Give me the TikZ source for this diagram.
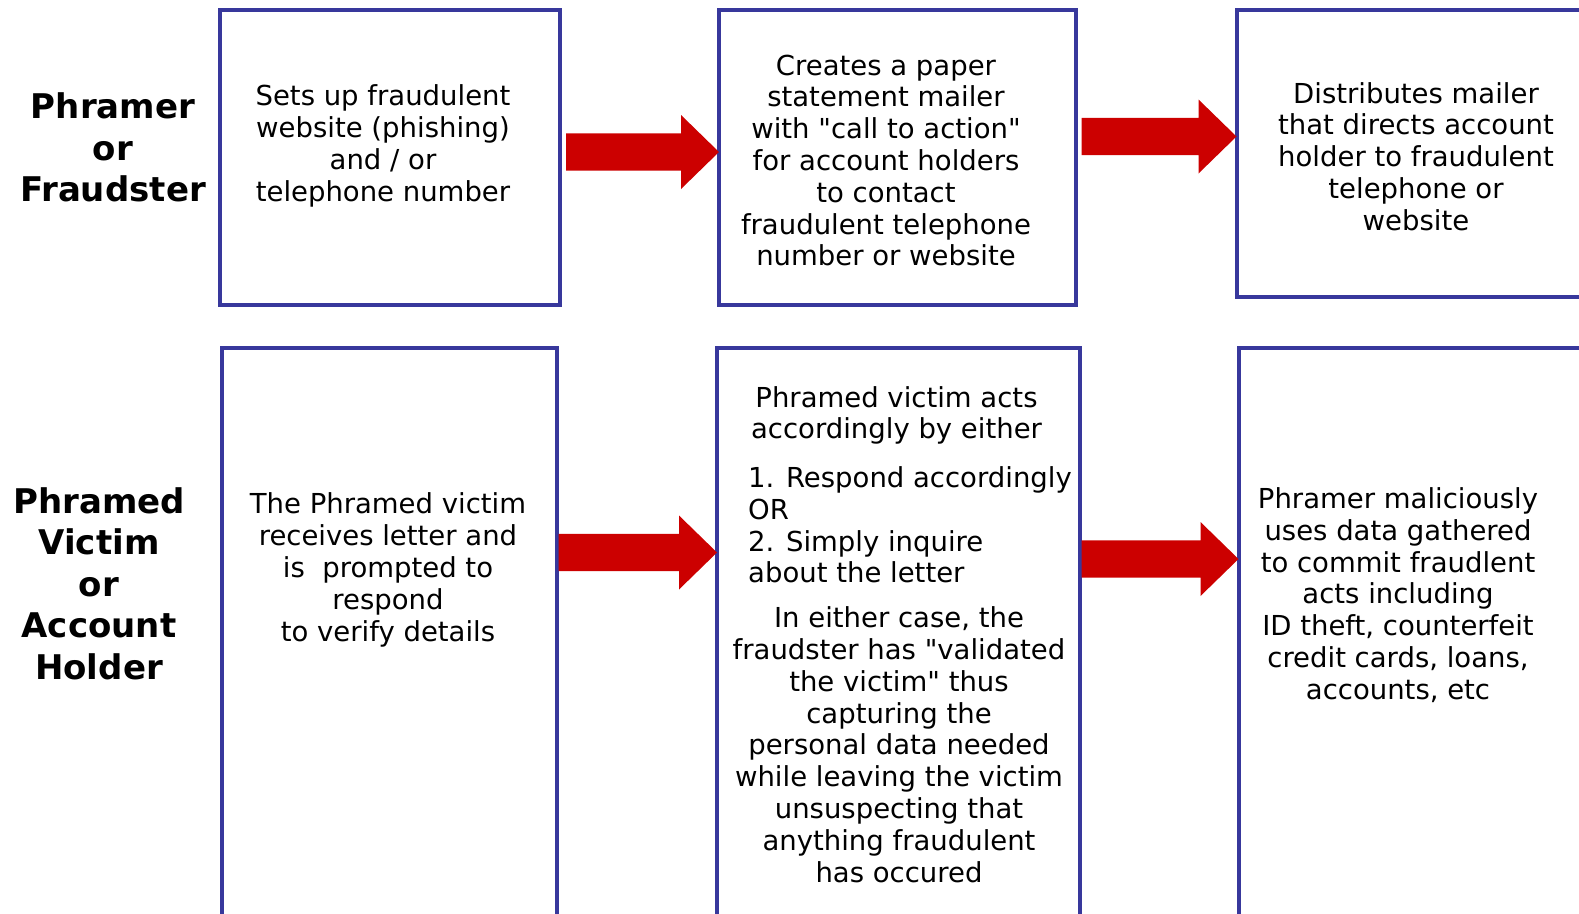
\documentclass[tikz,border=0pt]{standalone}
\usepackage{fontspec}
\setmainfont{DejaVu Sans}[Ligatures=TeXOff]
\usetikzlibrary{calc}
\definecolor{boxblue}{RGB}{56,56,156}
\definecolor{arrred}{RGB}{204,0,0}
\tikzset{
  box/.style={draw=boxblue, line width=4pt, rectangle, inner sep=0pt, outer sep=0pt},
  txt/.style={font=\fontsize{27.5}{31.8}\selectfont, align=center, inner sep=0pt},
  txtl/.style={font=\fontsize{27.5}{31.8}\selectfont, align=left, inner sep=0pt},
  lbl/.style={font=\fontsize{34}{41.5}\selectfont\bfseries, align=center, inner sep=0pt},
  arr/.style={fill=arrred},
}
\newcommand\fatarrow[4]{%
  \coordinate (t) at ([xshift=#4pt]#1.east |- 0,#3);
  \coordinate (h) at (#2.west |- 0,#3);
  \fill[arr] ($(t)+(0,-18.6)$) -- ($(h)+(-38,-18.6)$) -- ($(h)+(-38,-37)$) -- (h)
    -- ($(h)+(-38,37)$) -- ($(h)+(-38,18.6)$) -- ($(t)+(0,18.6)$) -- cycle;}
\begin{document}
\begin{tikzpicture}[x=1pt,y=-1pt]
\useasboundingbox (0,0) rectangle (1579,913);
\fill[white] (0,0) rectangle (1579,913);
% boxes
\node[box, minimum width=340.5, minimum height=295] (b1) at (389.75,157.5) {};
\node[box, minimum width=357, minimum height=295] (b2) at (897.5,157.5) {};
\node[box, minimum width=383.5, minimum height=287] (b3) at (1428.25,153.5) {};
\node[box, minimum width=335.5, minimum height=612] (b4) at (389.25,654) {};
\node[box, minimum width=362.5, minimum height=612] (b5) at (898.25,654) {};
\node[box, minimum width=381.5, minimum height=612] (b6) at (1429.25,654) {};
% arrows
\fatarrow{b1}{b2}{152}{6}
\fatarrow{b2}{b3}{136.5}{5.5}
\fatarrow{b4}{b5}{552.5}{1.5}
\fatarrow{b5}{b6}{559}{2}
% labels
\node[lbl] (l1) at (113,147.6) {Phramer\\or\\Fraudster};
\node[lbl] (l2) at (99,583.6) {Phramed\\Victim\\or\\Account\\Holder};
% texts
\node[txt] (t1) at (383,146) {Sets up fraudulent\\website (phishing)\\and / or\\telephone number};
\node[txt] (t2) at (886,160.4) {Creates a paper\\statement mailer\\with "call to action"\\for account holders\\to contact\\fraudulent telephone\\number or website};
\node[txt] (t3) at (1416,156.4) {Distributes mailer\\that directs account\\holder to fraudulent\\telephone or\\website};
\node[txt] (t4) at (388,570) {The Phramed victim\\receives letter and\\is\ \ prompted to\\respond\\to verify details};
\node[txt] (t5a) at (896.5,415.5) {Phramed victim acts\\accordingly by either};
\node[txtl, anchor=west] (t5b) at (748,525) {1. Respond accordingly\\OR\\2. Simply inquire\\about the letter};
\node[txt] (t5c) at (899,744.6) {In either case, the\\fraudster has "validated\\the victim" thus\\capturing the\\personal data needed\\while leaving the victim\\unsuspecting that\\anything fraudulent\\has occured};
\node[txt] (t6) at (1398,595) {Phramer maliciously\\uses data gathered\\to commit fraudlent\\acts including\\ID theft, counterfeit\\credit cards, loans,\\accounts, etc};
\end{tikzpicture}
\end{document}
